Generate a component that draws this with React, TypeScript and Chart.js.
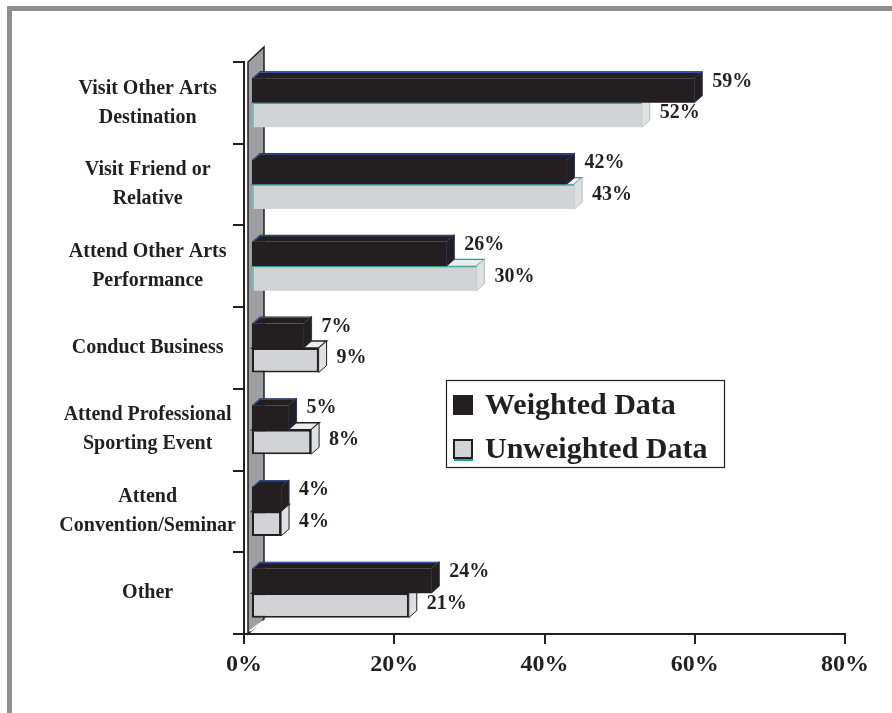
import React, { useEffect, useRef } from "react";
import { Chart, registerables } from "chart.js";

Chart.register(...registerables);

// Trip purposes (y axis), top to bottom
const categories: (string | string[])[] = [
  ["Visit Other Arts", "Destination"],
  ["Visit Friend or", "Relative"],
  ["Attend Other Arts", "Performance"],
  "Conduct Business",
  ["Attend Professional", "Sporting Event"],
  ["Attend", "Convention/Seminar"],
  "Other",
];

// Share of respondents, percent
const weighted = [59, 42, 26, 7, 5, 4, 24];
const unweighted = [52, 43, 30, 9, 8, 4, 21];

const xTicks = [0, 20, 40, 60, 80];
const seriesNames = ["Weighted Data", "Unweighted Data"];

const INK = "#231f20";
const LIGHT = "#d1d3d4";
const TEAL = "#1aa59b";
const BLUE = "#3553a5";
const SERIF = '"Liberation Serif", "Times New Roman", serif';

// pseudo-3D geometry
const BAR_DX = 8;
const BAR_DY = -7;
const FRONT_SHIFT = 7;
const WALL_DX = 16;
const WALL_DY = -15;

const grayBorder = [0, 0, 0, 2, 2, 2, 2];

function poly(ctx: CanvasRenderingContext2D, pts: number[][]) {
  ctx.beginPath();
  ctx.moveTo(pts[0][0], pts[0][1]);
  for (let i = 1; i < pts.length; i++) ctx.lineTo(pts[i][0], pts[i][1]);
  ctx.closePath();
}

const bars3d = {
  id: "bars3d",
  beforeDatasetsDraw(chart: any) {
    const { ctx, chartArea } = chart;
    const x0 = chartArea.left + 4;

    // back wall
    ctx.save();
    poly(ctx, [
      [x0, chartArea.top],
      [x0 + WALL_DX, chartArea.top + WALL_DY],
      [x0 + WALL_DX, chartArea.bottom + WALL_DY],
      [x0, chartArea.bottom],
    ]);
    ctx.fillStyle = "#9d9fa2";
    ctx.fill();
    ctx.lineWidth = 1.5;
    ctx.strokeStyle = INK;
    ctx.stroke();
    ctx.beginPath();
    ctx.moveTo(x0 + 2, chartArea.bottom - 3);
    ctx.lineTo(x0 + WALL_DX - 1, chartArea.bottom + WALL_DY + 2);
    ctx.strokeStyle = "#ffffff";
    ctx.lineWidth = 2;
    ctx.stroke();
    ctx.restore();

    ctx.save();
    ctx.translate(FRONT_SHIFT, 0);
    // top and side faces; the lower (unweighted) series first
    [1, 0].forEach((di) => {
      const meta = chart.getDatasetMeta(di);
      meta.data.forEach((el: any, i: number) => {
        const { x, y, base, height } = el.getProps(["x", "y", "base", "height"], true);
        const top = y - height / 2;
        const bottom = y + height / 2;
        const topFace = [
          [base, top],
          [base + BAR_DX, top + BAR_DY],
          [x + BAR_DX, top + BAR_DY],
          [x, top],
        ];
        const sideFace = [
          [x, top],
          [x + BAR_DX, top + BAR_DY],
          [x + BAR_DX, bottom + BAR_DY],
          [x, bottom],
        ];
        if (di === 0) {
          poly(ctx, topFace);
          ctx.fillStyle = INK;
          ctx.fill();
          ctx.beginPath();
          ctx.moveTo(base + 1, top);
          ctx.lineTo(base + BAR_DX, top + BAR_DY + 1);
          ctx.lineTo(x + BAR_DX - 1, top + BAR_DY + 1);
          ctx.strokeStyle = BLUE;
          ctx.lineWidth = 1.2;
          ctx.stroke();
          poly(ctx, sideFace);
          ctx.fillStyle = INK;
          ctx.fill();
          ctx.strokeStyle = "#2c3550";
          ctx.lineWidth = 1;
          ctx.stroke();
        } else {
          poly(ctx, topFace);
          ctx.fillStyle = "#eceded";
          ctx.fill();
          ctx.strokeStyle = grayBorder[i] ? INK : TEAL;
          ctx.lineWidth = grayBorder[i] ? 1.5 : 1.2;
          ctx.stroke();
          poly(ctx, sideFace);
          ctx.fillStyle = "#dfe0e1";
          ctx.fill();
          ctx.strokeStyle = grayBorder[i] ? INK : "#b9bbbd";
          ctx.lineWidth = 1;
          ctx.stroke();
        }
      });
    });
  },
  afterDatasetsDraw(chart: any) {
    const { ctx } = chart;
    // thin teal rim on the borderless light bars
    const meta1 = chart.getDatasetMeta(1);
    meta1.data.forEach((el: any, i: number) => {
      if (grayBorder[i]) return;
      const { x, y, base, height } = el.getProps(["x", "y", "base", "height"], true);
      const top = y - height / 2;
      ctx.beginPath();
      ctx.moveTo(base + 1, y + height / 2);
      ctx.lineTo(base + 1, top + 0.5);
      ctx.lineTo(x, top + 0.5);
      ctx.strokeStyle = TEAL;
      ctx.lineWidth = 1;
      ctx.stroke();
    });
    ctx.restore();

    // value labels
    ctx.save();
    ctx.font = `bold 20px ${SERIF}`;
    ctx.fillStyle = INK;
    ctx.textAlign = "left";
    ctx.textBaseline = "middle";
    [0, 1].forEach((di) => {
      const meta = chart.getDatasetMeta(di);
      const values = chart.data.datasets[di].data;
      meta.data.forEach((el: any, i: number) => {
        const { x, y, height } = el.getProps(["x", "y", "height"], true);
        const ty = di === 0 ? y - height / 2 + 3 : y - 2;
        ctx.fillText(`${values[i]}%`, x + FRONT_SHIFT + BAR_DX + 10, ty);
      });
    });
    ctx.restore();
  },
  afterDraw(chart: any) {
    const { ctx, chartArea } = chart;
    const lx = chartArea.left + 202;
    const ly = chartArea.top + 318;
    const w = 278;
    const h = 87;
    ctx.save();
    ctx.fillStyle = "#ffffff";
    ctx.fillRect(lx, ly, w, h);
    ctx.strokeStyle = INK;
    ctx.lineWidth = 1.2;
    ctx.strokeRect(lx + 0.5, ly + 0.5, w, h);
    ctx.font = `bold 30px ${SERIF}`;
    ctx.textAlign = "left";
    ctx.textBaseline = "middle";
    chart.data.datasets.forEach((ds: any, i: number) => {
      const cy = ly + 25 + i * 44;
      const sx = lx + 7;
      const sy = cy - 10;
      ctx.fillStyle = ds.backgroundColor;
      ctx.fillRect(sx, sy, 20, 20);
      if (i === 1) {
        ctx.strokeStyle = INK;
        ctx.lineWidth = 2;
        ctx.strokeRect(sx + 1, sy + 1, 18, 18);
        ctx.beginPath();
        ctx.moveTo(sx + 1, sy + 21);
        ctx.lineTo(sx + 20, sy + 21);
        ctx.strokeStyle = TEAL;
        ctx.stroke();
      }
      ctx.fillStyle = INK;
      ctx.fillText(ds.label, lx + 39, cy + 1);
    });
    ctx.restore();
  },
};

export default function App() {
  const ref = useRef<HTMLCanvasElement | null>(null);

  useEffect(() => {
    if (!ref.current) return;
    const chart = new Chart(ref.current, {
      type: "bar",
      data: {
        labels: categories,
        datasets: [
          {
            label: seriesNames[0],
            data: weighted,
            backgroundColor: INK,
            borderWidth: 0,
            categoryPercentage: 0.6,
            barPercentage: 1,
          },
          {
            label: seriesNames[1],
            data: unweighted,
            backgroundColor: LIGHT,
            borderColor: INK,
            borderWidth: grayBorder,
            borderSkipped: false,
            categoryPercentage: 0.6,
            barPercentage: 1,
          },
        ],
      },
      options: {
        indexAxis: "y",
        responsive: false,
        animation: false,
        devicePixelRatio: 1,
        layout: { padding: { left: 12, right: 47, top: 62, bottom: 20 } },
        plugins: {
          legend: { display: false },
          tooltip: { enabled: false },
        },
        scales: {
          x: {
            type: "linear",
            min: 0,
            max: 80,
            afterBuildTicks: (scale: any) => {
              scale.ticks = xTicks.map((v) => ({ value: v }));
            },
            afterFit: (scale: any) => {
              scale.height = 59;
            },
            ticks: {
              callback: (v: any) => `${v}%`,
              font: { family: SERIF, size: 24, weight: "bold" },
              color: INK,
              padding: 6,
              maxRotation: 0,
            },
            grid: {
              drawOnChartArea: false,
              drawTicks: true,
              tickLength: 10,
              color: INK,
              lineWidth: 2,
            },
            border: { display: true, color: INK, width: 2 },
          },
          y: {
            type: "category",
            afterFit: (scale: any) => {
              scale.width = 232;
            },
            ticks: {
              font: { family: SERIF, size: 20, weight: "bold", lineHeight: 1.45 },
              color: INK,
              crossAlign: "center",
              padding: -3,
            },
            grid: {
              offset: true,
              drawOnChartArea: false,
              drawTicks: true,
              tickLength: 11,
              color: INK,
              lineWidth: 2,
            },
            border: { display: true, color: INK, width: 2 },
          },
        },
      },
      plugins: [bars3d],
    } as any);
    return () => chart.destroy();
  }, []);

  return (
    <div
      style={{
        position: "fixed",
        left: 0,
        top: 0,
        width: 892,
        height: 713,
        background: "#ffffff",
        overflow: "hidden",
      }}
    >
      <div
        style={{
          position: "absolute",
          left: 7,
          top: 6,
          right: 0,
          bottom: 0,
          borderTop: "5px solid #8f8f8f",
          borderLeft: "5px solid #8f8f8f",
        }}
      />
      <canvas
        ref={ref}
        width={892}
        height={713}
        style={{ position: "absolute", left: 0, top: 0, display: "block" }}
      />
    </div>
  );
}
